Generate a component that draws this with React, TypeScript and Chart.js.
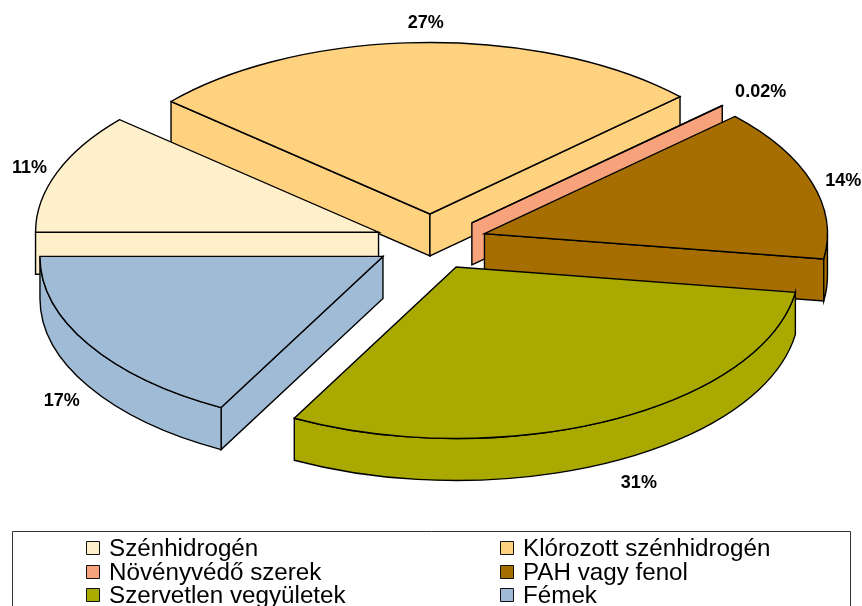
import React, { useEffect, useRef } from "react";
import { Chart, registerables } from "chart.js";

Chart.register(...registerables);

const categories = ["Szénhidrogén", "Klórozott szénhidrogén", "Növényvédő szerek", "PAH vagy fenol", "Szervetlen vegyületek", "Fémek"];
const shares = [11.4, 26.65, 0.02, 14.35, 30.5, 17.2];
const shareLabels = ["11%", "27%", "0.02%", "14%", "31%", "17%"];
const colors = ["#FFF0CC", "#FFD280", "#F7A27A", "#A66E00", "#A9A900", "#A0BBD6"];
const labelNudges = [[5, 2], [3, -2], [13, -2], [-2, 4], [13, 5], [3, 6]];

const SQUASH = 0.5;
const DEPTH = 42;
const LABEL_REACH = 378;

const pie3d = {
  id: "pie3d",
  beforeDatasetsDraw(chart: any) {
    const ctx = chart.ctx as CanvasRenderingContext2D;
    const arcs = chart.getDatasetMeta(0).data.map((arc: any, i: number) => {
      const mid = (arc.startAngle + arc.endAngle) / 2;
      const off = arc.options.offset;
      return {
        i, arc, mid,
        ox: arc.x + Math.cos(mid) * off,
        oy: arc.y + Math.sin(mid) * off * SQUASH,
      };
    });
    const order = [...arcs].sort((a: any, b: any) => a.oy - b.oy);
    ctx.save();
    ctx.lineJoin = "miter";
    for (const s of order) {
      const { arc, ox, oy } = s;
      const r = arc.outerRadius;
      const a0 = arc.startAngle, a1 = arc.endAngle;
      ctx.fillStyle = arc.options.backgroundColor;
      ctx.strokeStyle = arc.options.borderColor;
      ctx.lineWidth = arc.options.borderWidth;
      const paint = () => { ctx.closePath(); ctx.fill(); ctx.stroke(); };
      const faces = [];
      if (Math.cos(a0) < 0) faces.push(a0);
      if (Math.cos(a1) > 0) faces.push(a1);
      for (const a of faces) {
        const px = ox + r * Math.cos(a), py = oy + r * SQUASH * Math.sin(a);
        ctx.beginPath();
        ctx.moveTo(ox, oy);
        ctx.lineTo(px, py);
        ctx.lineTo(px, py + DEPTH);
        ctx.lineTo(ox, oy + DEPTH);
        paint();
      }
      const lo = Math.max(a0, 0), hi = Math.min(a1, Math.PI);
      if (hi > lo) {
        ctx.beginPath();
        ctx.ellipse(ox, oy, r, r * SQUASH, 0, lo, hi);
        ctx.lineTo(ox + r * Math.cos(hi), oy + r * SQUASH * Math.sin(hi) + DEPTH);
        ctx.ellipse(ox, oy + DEPTH, r, r * SQUASH, 0, hi, lo, true);
        paint();
      }
      ctx.beginPath();
      ctx.moveTo(ox, oy);
      ctx.ellipse(ox, oy, r, r * SQUASH, 0, a0, a1);
      paint();
    }
    ctx.fillStyle = "#000";
    ctx.font = "bold 18px 'Liberation Sans', Arial, sans-serif";
    ctx.textAlign = "center";
    ctx.textBaseline = "middle";
    for (const s of arcs) {
      const dy = Math.sin(s.mid) > 0 ? DEPTH : 0;
      const x = s.ox + LABEL_REACH * Math.cos(s.mid) + labelNudges[s.i][0];
      const y = s.oy + LABEL_REACH * SQUASH * Math.sin(s.mid) + dy + labelNudges[s.i][1];
      ctx.fillText(shareLabels[s.i], x, y);
    }
    ctx.restore();
    return false;
  },
  afterDraw(chart: any) {
    const ctx = chart.ctx as CanvasRenderingContext2D;
    ctx.save();
    ctx.fillStyle = "#fff";
    ctx.strokeStyle = "#333";
    ctx.lineWidth = 1;
    ctx.beginPath();
    ctx.rect(12.5, 531.5, 838, 90);
    ctx.fill();
    ctx.stroke();
    ctx.font = "24.2px 'Liberation Sans', Arial, sans-serif";
    ctx.textBaseline = "middle";
    ctx.textAlign = "left";
    const cols = [86, 500];
    const rows = [548, 572, 595];
    categories.forEach((name, i) => {
      const x = cols[i % 2], y = rows[Math.floor(i / 2)];
      ctx.fillStyle = colors[i];
      ctx.strokeStyle = "#111";
      ctx.beginPath();
      ctx.rect(x + 0.5, y - 6.5, 13, 13);
      ctx.fill();
      ctx.stroke();
      ctx.fillStyle = "#000";
      ctx.fillText(name, x + 23, y + 1);
    });
    ctx.restore();
  },
};

export default function App() {
  const ref = useRef<HTMLCanvasElement>(null);
  useEffect(() => {
    const chart = new Chart(ref.current!, {
      type: "pie",
      data: {
        labels: categories,
        datasets: [{
          data: shares,
          backgroundColor: colors,
          borderColor: "#000",
          borderWidth: 1.4,
          offset: 56,
        }],
      },
      options: {
        responsive: false,
        animation: false,
        rotation: -90,
        radius: 343,
        layout: { padding: { bottom: 122 } },
        plugins: { legend: { display: false }, tooltip: { enabled: false } },
      },
      plugins: [pie3d],
    } as any);
    return () => chart.destroy();
  }, []);
  return (
    <div style={{ position: "absolute", left: 0, top: 0, width: 862, height: 606, overflow: "hidden", background: "#fff" }}>
      <canvas ref={ref} width={862} height={606} style={{ display: "block" }} />
    </div>
  );
}
